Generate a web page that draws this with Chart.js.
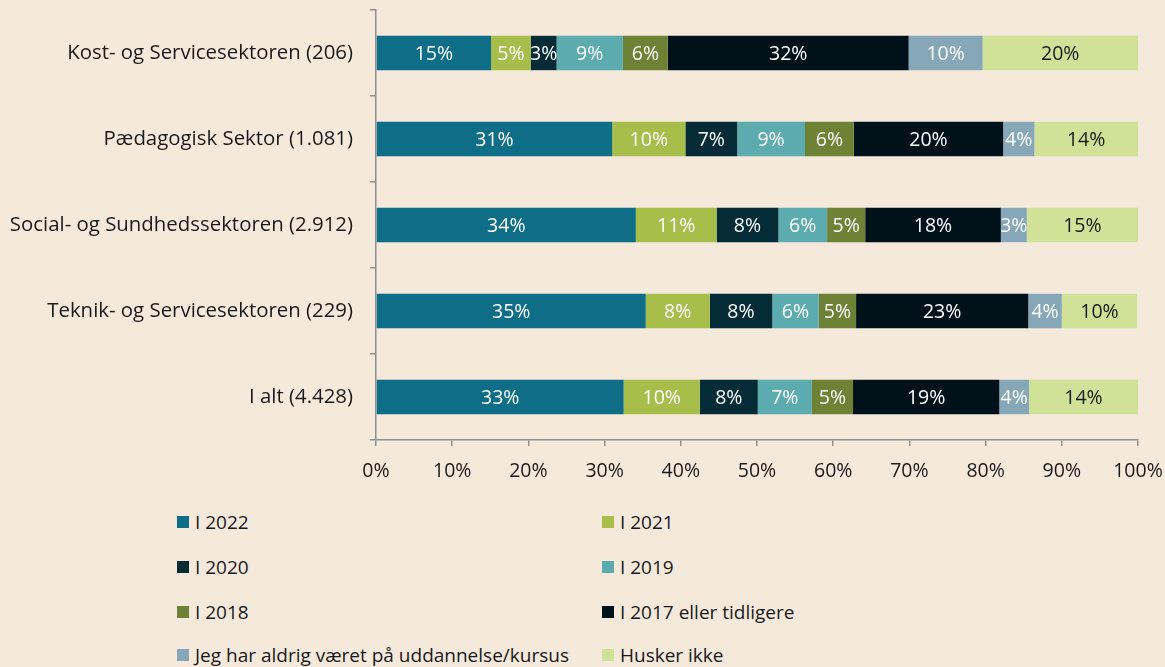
<!DOCTYPE html>
<html>
<head>
<meta charset="utf-8">
<script src="https://cdn.jsdelivr.net/npm/chart.js@4.4.1/dist/chart.umd.min.js"></script>
<style>
  html, body { margin: 0; padding: 0; background: #F5E9DC; }
  #wrap { position: relative; width: 1165px; height: 667px; background: #F5E9DC; overflow: hidden; }
  #c { position: absolute; left: 0; top: 0; }
  .lg { position: absolute; display: flex; align-items: center; font-family: "Open Sans", sans-serif; font-size: 19px; color: #1a1a1a; white-space: nowrap; }
  .lg span.sw { display: inline-block; width: 12px; height: 12px; margin-right: 6px; }
</style>
</head>
<body>
<div id="wrap">
  <canvas id="c" width="1165" height="500"></canvas>
</div>
<script>
const categories = [
  "Kost- og Servicesektoren (206)",
  "Pædagogisk Sektor (1.081)",
  "Social- og Sundhedssektoren (2.912)",
  "Teknik- og Servicesektoren (229)",
  "I alt (4.428)"
];
const seriesNames = [
  "I 2022", "I 2021", "I 2020", "I 2019", "I 2018",
  "I 2017 eller tidligere", "Jeg har aldrig været på uddannelse/kursus", "Husker ikke"
];
const seriesColors = [
  "#0E6E87", "#A8BE4B", "#042B36", "#5CABAF", "#6E8236",
  "#01111A", "#86A7B7", "#D0E297"
];
const labelColors = ["#ffffff","#ffffff","#ffffff","#ffffff","#ffffff","#ffffff","#ffffff","#1a1a1a"];
const v2022 = [15.1, 31.0, 34.1, 35.4, 32.5];
const v2021 = [5.2, 9.6, 10.6, 8.4, 10.0];
const v2020 = [3.4, 6.8, 8.1, 8.2, 7.6];
const v2019 = [8.7, 8.9, 6.4, 6.1, 7.1];
const v2018 = [5.9, 6.4, 5.0, 4.9, 5.4];
const v2017 = [31.6, 19.6, 17.8, 22.6, 19.2];
const vNever = [9.7, 4.1, 3.4, 4.4, 3.9];
const vDontKnow = [20.4, 13.6, 14.6, 9.9, 14.3];
const xTicks = [0, 10, 20, 30, 40, 50, 60, 70, 80, 90, 100];

const seriesValues = [v2022, v2021, v2020, v2019, v2018, v2017, vNever, vDontKnow];
const FONT = "'Open Sans', sans-serif";
const FS = 19.5;
const TEXT = "#1a1a1a";
const AXIS = "#8f8f8f";

const datasets = seriesNames.map((name, i) => ({
  label: name,
  data: seriesValues[i],
  backgroundColor: seriesColors[i],
  borderWidth: 0,
  barPercentage: 0.4,
  categoryPercentage: 1.0
}));

const barLabels = {
  id: "barLabels",
  afterDatasetsDraw(chart) {
    const ctx = chart.ctx;
    ctx.save();
    ctx.font = FS + "px " + FONT;
    ctx.textAlign = "center";
    ctx.textBaseline = "middle";
    chart.data.datasets.forEach((ds, i) => {
      const meta = chart.getDatasetMeta(i);
      meta.data.forEach((el, j) => {
        const p = el.getProps(["x", "y", "base"], true);
        ctx.fillStyle = labelColors[i];
        ctx.fillText(Math.round(ds.data[j]) + "%", (p.x + p.base) / 2, p.y + 1);
      });
    });
    ctx.restore();
  }
};

new Chart(document.getElementById("c"), {
  type: "bar",
  data: { labels: categories, datasets },
  plugins: [barLabels],
  options: {
    indexAxis: "y",
    responsive: false,
    animation: false,
    layout: { padding: { top: 10, right: 27, left: 0, bottom: 0 } },
    plugins: { legend: { display: false }, tooltip: { enabled: false } },
    scales: {
      x: {
        stacked: true,
        min: 0, max: 100,
        afterBuildTicks(scale) { scale.ticks = xTicks.map(v => ({ value: v })); },
        afterFit(scale) { scale.height = 60; scale.paddingLeft = 0; scale.paddingRight = 0; },
        border: { display: true, color: AXIS, width: 1.5 },
        grid: { display: true, drawOnChartArea: false, drawTicks: true, tickLength: 6, color: AXIS, lineWidth: 1.5 },
        ticks: { callback: v => v + "%", color: TEXT, font: { family: FONT, size: FS }, padding: 14, maxRotation: 0, autoSkip: false }
      },
      y: {
        stacked: true,
        afterFit(scale) { scale.width = 376; scale.paddingTop = 0; scale.paddingBottom = 0; },
        border: { display: true, color: AXIS, width: 1.5 },
        grid: { display: true, drawOnChartArea: false, drawTicks: true, tickLength: 6, color: AXIS, lineWidth: 1.5, offset: true },
        ticks: { color: TEXT, font: { family: FONT, size: 20.4 }, padding: 17 }
      }
    }
  }
});

// HTML legend in two columns, built from the series arrays
const wrap = document.getElementById("wrap");
const colX = [177, 602];
const rowY = [522, 567, 612, 655];
seriesNames.forEach((name, i) => {
  const d = document.createElement("div");
  d.className = "lg";
  d.style.left = colX[i % 2] + "px";
  d.style.top = (rowY[Math.floor(i / 2)] - 13) + "px";
  d.style.height = "26px";
  const sw = document.createElement("span");
  sw.className = "sw";
  sw.style.background = seriesColors[i];
  d.appendChild(sw);
  d.appendChild(document.createTextNode(name));
  wrap.appendChild(d);
});
</script>
</body>
</html>
